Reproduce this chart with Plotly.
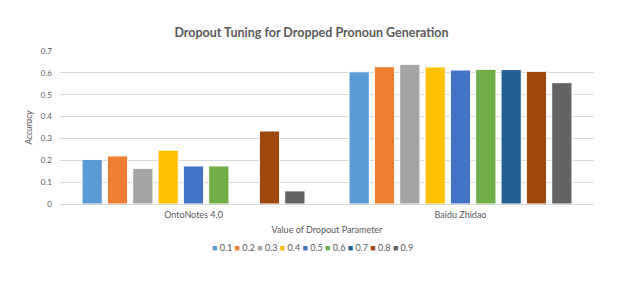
import plotly.graph_objects as go

categories = ["OntoNotes 4.0", "Baidu Zhidao"]
series_names = ["0.1", "0.2", "0.3", "0.4", "0.5", "0.6", "0.7", "0.8", "0.9"]
ontonotes = [0.204, 0.220, 0.163, 0.246, 0.174, 0.174, 0.002, 0.334, 0.060]
baidu = [0.605, 0.628, 0.639, 0.627, 0.613, 0.616, 0.615, 0.607, 0.555]
colors = ["#5B9BD5", "#ED7D31", "#A5A5A5", "#FFC000", "#4472C4",
          "#70AD47", "#255E91", "#9E480E", "#636363"]
y_ticks = [0, 0.1, 0.2, 0.3, 0.4, 0.5, 0.6, 0.7]
y_tick_labels = ["0", "0.1", "0.2", "0.3", "0.4", "0.5", "0.6", "0.7"]

FONT = "Lato"
GRAY = "#595959"

fig = go.Figure()
for i, name in enumerate(series_names):
    fig.add_trace(go.Bar(
        x=categories, y=[ontonotes[i], baidu[i]], name=name,
        marker=dict(color=colors[i], line=dict(color="white", width=1)),
        showlegend=False,
    ))

legend_text = "&nbsp;".join(
    f"<span style='color:{c}'>■</span> {n}" for n, c in zip(series_names, colors)
)

fig.update_layout(
    width=623, height=282,
    margin=dict(l=60, r=29, t=51, b=78, autoexpand=False),
    paper_bgcolor="white", plot_bgcolor="white",
    barmode="group", bargap=0.146, bargroupgap=0.2,
    font=dict(family=FONT, color=GRAY, size=9),
    title=dict(text="Dropout Tuning for Dropped Pronoun Generation",
               x=0.5, xref="container", xanchor="center",
               y=1 - 33 / 282, yref="container", yanchor="middle",
               font=dict(family=FONT, size=12.5, color=GRAY, weight=700)),
    annotations=[dict(text=legend_text, x=0.5, xref="paper", xanchor="center",
                      xshift=-15, y=(204 - 248) / 153, yref="paper", yanchor="middle",
                      showarrow=False, font=dict(family=FONT, size=9, color=GRAY))],
    xaxis=dict(showgrid=False, showline=False, ticks="", automargin=False,
               ticklabelstandoff=4,
               tickfont=dict(size=9, color=GRAY),
               title=dict(text="Value of Dropout Parameter", standoff=7,
                          font=dict(size=9, color=GRAY))),
    yaxis=dict(range=[0, 0.7], tickvals=y_ticks, ticktext=y_tick_labels,
               automargin=False,
               showgrid=True, gridcolor="#D9D9D9", gridwidth=1,
               zeroline=True, zerolinecolor="#D9D9D9", zerolinewidth=1,
               showline=False, ticks="", ticklabelstandoff=7,
               tickfont=dict(size=8, color=GRAY),
               title=dict(text="<i>Accuracy</i>", standoff=6,
                          font=dict(size=9, color=GRAY))),
)

fig.write_html(
    "out.html",
    config={"displayModeBar": False},
    post_script="document.body.style.margin='0';document.body.style.padding='0';",
)
